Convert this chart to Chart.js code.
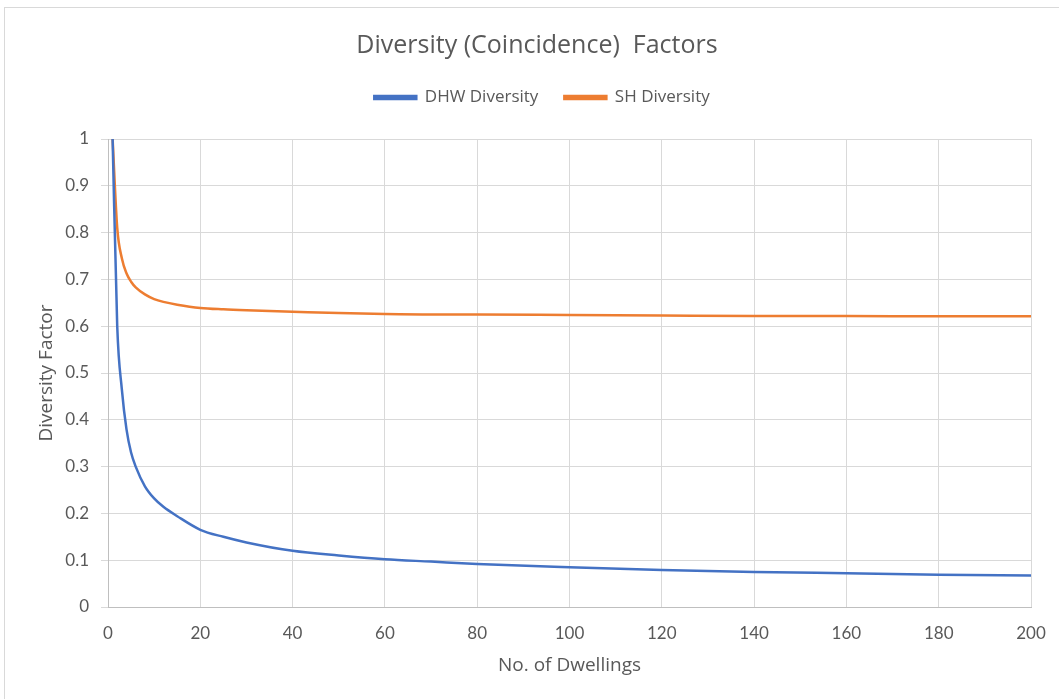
<!DOCTYPE html>
<html>
<head>
<meta charset="utf-8">
<script src="https://cdn.jsdelivr.net/npm/chart.js@4/dist/chart.umd.min.js"></script>
<style>
  html, body { margin: 0; padding: 0; background: #ffffff; }
  #wrap { position: relative; width: 1059px; height: 699px; }
</style>
</head>
<body>
<div id="wrap"><canvas id="c" width="1059" height="699"></canvas></div>
<script>
// Number of dwellings (x values)
const dwellings = [1, 2, 3, 4, 5, 6, 8, 10, 12, 15, 20, 25, 30, 40, 50, 60, 70, 80, 100, 120, 140, 160, 180, 200];
// DHW diversity factor
const dhwDiversity = [1.0, 0.60, 0.465, 0.38, 0.33, 0.30, 0.258, 0.232, 0.214, 0.194, 0.165, 0.150, 0.138, 0.120, 0.110, 0.102, 0.097, 0.092, 0.085, 0.079, 0.075, 0.072, 0.069, 0.0675];
// SH diversity factor
const shDiversity = [1.0, 0.81, 0.745, 0.713, 0.695, 0.683, 0.668, 0.658, 0.652, 0.646, 0.639, 0.636, 0.634, 0.631, 0.628, 0.626, 0.625, 0.625, 0.624, 0.623, 0.622, 0.622, 0.621, 0.621];

const seriesNames = ['DHW Diversity', 'SH Diversity'];
const chartTitle = 'Diversity (Coincidence)  Factors';
const xTitle = 'No. of Dwellings';
const yTitle = 'Diversity Factor';

const TICKFONT = 'Lato, "Open Sans", sans-serif';
const FONT = '"Open Sans", Lato, sans-serif';
const TXT = '#595959';

function toXY(xs, ys) { return xs.map((x, i) => ({ x: x, y: ys[i] })); }

const frame = {
  id: 'frame',
  beforeDraw(chart) {
    const ctx = chart.ctx;
    ctx.save();
    ctx.fillStyle = '#ffffff';
    ctx.fillRect(0, 0, chart.width, chart.height);
    ctx.strokeStyle = '#d9d9d9';
    ctx.lineWidth = 1;
    ctx.strokeRect(4.5, 7.5, 1200, 900);
    ctx.restore();
  }
};

const legendMargin = {
  id: 'legendMargin',
  beforeInit(chart) {
    const fit = chart.legend.fit;
    chart.legend.fit = function () {
      fit.bind(chart.legend)();
      this.height += 23;
    };
  },
  afterLayout(chart) {
    if (chart.legend) { chart.legend.left += 9; chart.legend.right += 9; }
    if (chart.titleBlock) { chart.titleBlock.left += 4; chart.titleBlock.right += 4; }
  }
};

new Chart(document.getElementById('c'), {
  type: 'line',
  data: {
    datasets: [
      {
        label: seriesNames[0],
        data: toXY(dwellings, dhwDiversity),
        borderColor: '#4472C4',
        backgroundColor: '#4472C4',
        borderWidth: 2.5,
        pointRadius: 0,
        cubicInterpolationMode: 'monotone',
        fill: false
      },
      {
        label: seriesNames[1],
        data: toXY(dwellings, shDiversity),
        borderColor: '#ED7D31',
        backgroundColor: '#ED7D31',
        borderWidth: 2.5,
        pointRadius: 0,
        cubicInterpolationMode: 'monotone',
        fill: false
      }
    ]
  },
  options: {
    responsive: false,
    animation: false,
    layout: { padding: { left: 35, right: 28, top: 0, bottom: 22 } },
    plugins: {
      title: {
        display: true,
        text: chartTitle,
        color: TXT,
        font: { family: FONT, size: 25, weight: 'normal' },
        padding: { top: 31, bottom: 2 }
      },
      legend: {
        display: true,
        position: 'top',
        labels: {
          color: TXT,
          font: { family: FONT, size: 17 },
          boxWidth: 42,
          boxHeight: 3,
          padding: 26
        }
      },
      tooltip: { enabled: false }
    },
    scales: {
      x: {
        type: 'linear',
        min: 0,
        max: 200,
        ticks: { stepSize: 20, color: TXT, font: { family: TICKFONT, size: 17 }, padding: 16 },
        grid: { color: '#d9d9d9', lineWidth: 1, drawTicks: false },
        border: { color: '#bfbfbf', width: 1 },
        title: { display: true, text: xTitle, color: TXT, font: { family: FONT, size: 19 }, padding: { top: 0, bottom: 0 } },
        afterFit(scale) { scale.height = 70; scale.paddingRight = 0; scale.paddingLeft = 0; }
      },
      y: {
        min: 0,
        max: 1,
        ticks: {
          stepSize: 0.1, color: TXT, font: { family: TICKFONT, size: 17 }, padding: 12,
          callback: (v) => String(+v.toFixed(1))
        },
        grid: { color: '#d9d9d9', lineWidth: 1, drawTicks: true, tickLength: 7 },
        border: { color: '#bfbfbf', width: 1 },
        title: { display: true, text: yTitle, color: TXT, font: { family: FONT, size: 19 }, padding: { top: 0, bottom: 0 } },
        afterFit(scale) { scale.width = 73; }
      }
    }
  },
  plugins: [frame, legendMargin]
});
</script>
</body>
</html>
